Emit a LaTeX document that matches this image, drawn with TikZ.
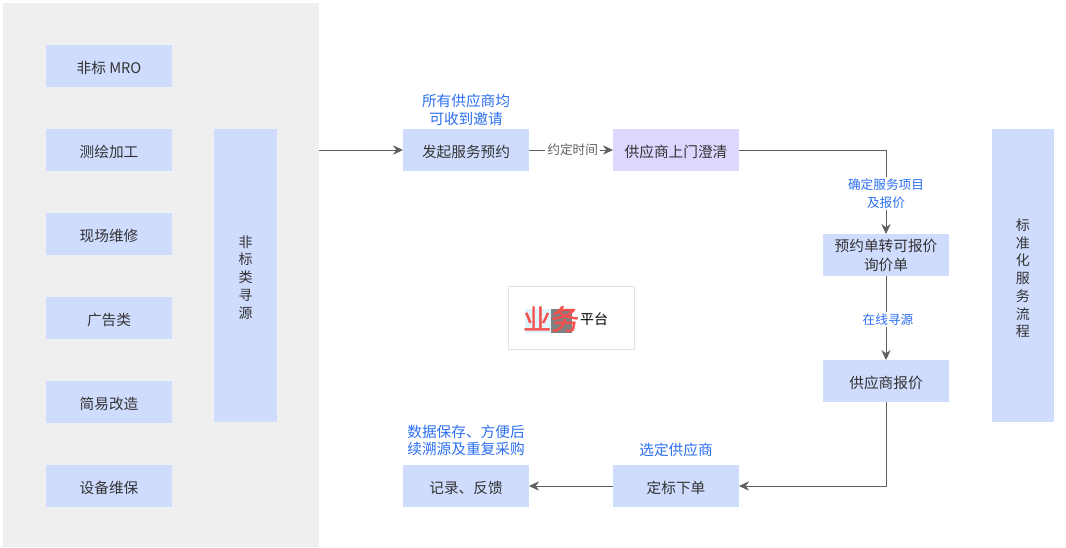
\documentclass[tikz,border=0pt]{standalone}
\usepackage{fontspec}
\setmainfont{Noto Sans CJK SC}
\newfontfamily\stampfont{Noto Sans CJK SC}[FakeBold=1.2]
\usetikzlibrary{arrows.meta,positioning}
\definecolor{FlowBox}{RGB}{208,220,254}
\definecolor{FlowBoxAlt}{RGB}{221,214,254}
\definecolor{FlowPanel}{RGB}{239,239,239}
\definecolor{FlowLine}{RGB}{96,96,96}
\definecolor{FlowText}{RGB}{51,51,51}
\definecolor{FlowNote}{RGB}{43,111,240}
\definecolor{FlowFrame}{RGB}{226,226,226}
\definecolor{FlowRed}{RGB}{245,80,78}
\tikzset{
  caixa/.style={fill=FlowBox, text=FlowText, align=center, inner sep=0pt, outer sep=0pt,
                minimum width=94.5pt, minimum height=31.5pt,
                font=\fontsize{11}{14.25}\selectfont,
                execute at begin node={\rule{0pt}{11.5pt}}},
  coluna/.style={caixa, minimum width=47.25pt, minimum height=220pt,
                font=\fontsize{10.5}{13.3}\selectfont},
  seta/.style={-{Stealth[length=7.5pt, width=7pt]}, line width=0.6pt, FlowLine},
  nota/.style={text=FlowNote, align=center, inner sep=0pt,
                font=\fontsize{11}{13.4}\selectfont},
  notalinha/.style={nota, fill=white, inner sep=1.5pt,
                font=\fontsize{9.5}{13}\selectfont},
}
\begin{document}
\begin{tikzpicture}[x=0.75pt, y=0.75pt, node distance=31.5pt and 63pt]
  \useasboundingbox (0,0) rectangle (1066,-547);
  % Painel cinza
  \node[fill=FlowPanel, inner sep=0pt, outer sep=0pt, minimum width=237pt, minimum height=408pt,
        anchor=north west] (painel) at (3,-3) {};

  % Coluna de tipos
  \node[caixa] (mro) at (109,-66) {非标 MRO};
  \node[caixa, below=of mro] (mapping) {测绘加工};
  \node[caixa, below=of mapping] (repair) {现场维修};
  \node[caixa, below=of repair] (ads) {广告类};
  \node[caixa, below=of ads] (retrofit) {简易改造};
  \node[caixa, below=of retrofit] (upkeep) {设备维保};
  \node[coluna, anchor=north west] (sourcing) at (214,-129) {\mbox{}\\[-2pt]非\\标\\类\\寻\\源};

  % Fluxo
  \node[caixa] (booking) at (466,-150) {发起服务预约};
  \node[caixa, right=of booking, fill=FlowBoxAlt] (visit) {供应商上门澄清};
  \node[caixa] (inquiry) at (886,-255) {预约单转可报价\\询价单};
  \node[caixa, below=63pt of inquiry] (quote) {供应商报价};
  \node[caixa] (award) at (676,-486) {定标下单};
  \node[caixa, left=of award] (record) {记录、反馈};
  \node[coluna, anchor=north west, minimum width=47pt] (standard) at (991.5,-129) {\mbox{}\\[-0.5pt]标\\准\\化\\服\\务\\流\\程};

  % Notas
  \node[nota, above=2.5pt of booking] (noteInvite) {所有供应商均\\可收到邀请};
  \node[nota, above=6.5pt of record] (noteSave) {数据保存、方便后\\续溯源及重复采购};
  \node[nota, above=6pt of award] (noteSelect) {选定供应商};

  % Plataforma
  \node[draw=FlowFrame, line width=0.8pt, fill=white, inner sep=0pt, minimum width=94.5pt,
        minimum height=47.5pt] (platform) at (571.5,-318) {};
  \fill[cyan!12] (525,-309) rectangle (552,-333);
  \fill[gray] (551,-309) rectangle (572,-333);
  \node[text=FlowRed, inner sep=0pt, font=\stampfont\fontsize{21}{21}\selectfont] (stamp) at (551,-319) {业务};
  \node[text=black, inner sep=0pt, font=\fontsize{10.5}{12}\selectfont] (platformName) at (594,-319) {平台};

  % Setas
  \draw[seta] (painel.east |- booking) -- (booking);
  \draw[seta] (booking) -- node[notalinha, text=FlowLine, pos=0.52] {约定时间} (visit);
  \draw[seta] (visit) -| node[notalinha, pos=0.76] {确定服务项目\\及报价} (inquiry);
  \draw[seta] (inquiry) -- node[notalinha, xshift=1.5pt, yshift=-1pt] {在线寻源} (quote);
  \draw[seta] (quote) |- (award);
  \draw[seta] (award) -- (record);
\end{tikzpicture}
\end{document}
